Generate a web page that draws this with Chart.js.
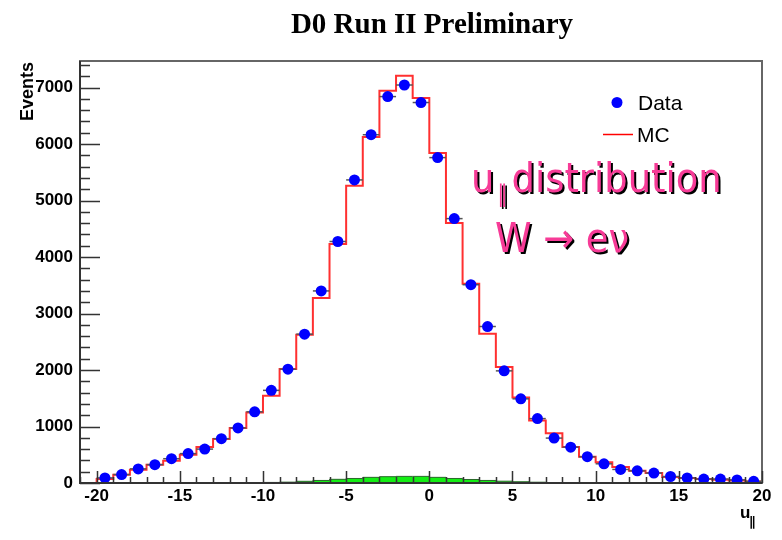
<!DOCTYPE html>
<html>
<head>
<meta charset="utf-8">
<script src="https://cdn.jsdelivr.net/npm/chart.js@4.4.1/dist/chart.umd.min.js"></script>
<style>
  html, body { margin: 0; padding: 0; background: #fff; }
</style>
</head>
<body>
<canvas id="chart" width="782" height="540"></canvas>
<script>
// u_parallel bins, 1 GeV wide, from -20 to 20
const BinCenters = [-19.5, -18.5, -17.5, -16.5, -15.5, -14.5, -13.5, -12.5, -11.5, -10.5,
                    -9.5, -8.5, -7.5, -6.5, -5.5, -4.5, -3.5, -2.5, -1.5, -0.5,
                    0.5, 1.5, 2.5, 3.5, 4.5, 5.5, 6.5, 7.5, 8.5, 9.5,
                    10.5, 11.5, 12.5, 13.5, 14.5, 15.5, 16.5, 17.5, 18.5, 19.5];
const BinWidth = 1;

const DataCounts = [90, 150, 250, 325, 430, 520, 600, 785, 975, 1260,
                    1640, 2015, 2635, 3400, 4275, 5365, 6165, 6840, 7045, 6735,
                    5760, 4680, 3510, 2770, 1985, 1490, 1140, 795, 635, 465,
                    340, 240, 215, 175, 115, 90, 70, 70, 55, 30];

const McCounts = [70, 147, 235, 324, 395, 500, 637, 779, 973, 1250,
                  1545, 2017, 2624, 3274, 4229, 5261, 6123, 6942, 7208, 6813,
                  5840, 4601, 3527, 2642, 2053, 1515, 1108, 880, 637, 465,
                  368, 285, 218, 177, 106, 88, 71, 59, 46, 28];

const BkgCounts = [0, 0, 0, 0, 0, 0, 0, 0, 3, 6,
                   10, 15, 30, 45, 65, 80, 100, 112, 117, 117,
                   100, 80, 62, 45, 32, 22, 14, 8, 4, 2,
                   0, 0, 0, 0, 0, 0, 0, 0, 0, 0];

const XTicks = [-20, -15, -10, -5, 0, 5, 10, 15, 20];
const YTicks = [0, 1000, 2000, 3000, 4000, 5000, 6000, 7000];

const XMin = -21, XMax = 20;
const YMin = 0, YMax = 7470;

// step outline through the lower bin edges, closed at the last upper edge
function histPoints(counts) {
    const pts = [{x: XMin, y: 0}];
    BinCenters.forEach((c, i) => pts.push({x: c - BinWidth / 2, y: counts[i]}));
    pts.push({x: BinCenters[BinCenters.length - 1] + BinWidth / 2, y: counts[counts.length - 1]});
    return pts;
}

const PINK = '#f73b97';

function shadowText(ctx, txt, x, y) {
    ctx.fillStyle = '#000';
    ctx.fillText(txt, x + 2, y + 2);
    ctx.fillStyle = PINK;
    ctx.fillText(txt, x, y);
}

const decor = {
    id: 'decor',
    beforeDatasetDraw(chart, args) {
        if (args.index !== 0) return;
        const ctx = chart.ctx, xs = chart.scales.x, ys = chart.scales.y;
        ctx.save();
        ctx.strokeStyle = '#555';
        ctx.lineWidth = 1.5;
        BinCenters.forEach((c, i) => {
            const y = ys.getPixelForValue(DataCounts[i]);
            ctx.beginPath();
            ctx.moveTo(xs.getPixelForValue(c - BinWidth / 2), y);
            ctx.lineTo(xs.getPixelForValue(c + BinWidth / 2), y);
            ctx.stroke();
        });
        ctx.restore();
    },
    afterDraw(chart) {
        const ctx = chart.ctx, a = chart.chartArea;
        const xs = chart.scales.x, ys = chart.scales.y;
        ctx.save();

        // frame
        ctx.strokeStyle = '#666';
        ctx.lineWidth = 2;
        ctx.strokeRect(a.left, a.top, a.right - a.left, a.bottom - a.top);
        ctx.strokeStyle = '#333';
        ctx.beginPath();
        ctx.moveTo(a.left, a.top);
        ctx.lineTo(a.left, a.bottom);
        ctx.lineTo(a.right, a.bottom);
        ctx.stroke();

        // inward tick marks, majors and minors
        ctx.strokeStyle = '#333';
        ctx.lineWidth = 1.5;
        ctx.beginPath();
        for (let v = Math.ceil(XMin); v <= XMax; v++) {
            const px = Math.round(xs.getPixelForValue(v)) + 0.5;
            const len = v % 5 === 0 ? 12 : 6;
            ctx.moveTo(px, a.bottom);
            ctx.lineTo(px, a.bottom - len);
        }
        for (let v = YMin; v <= YMax; v += 200) {
            const py = Math.round(ys.getPixelForValue(v)) + 0.5;
            const len = v % 1000 === 0 ? 20 : 10;
            ctx.moveTo(a.left, py);
            ctx.lineTo(a.left + len, py);
        }
        ctx.stroke();

        // title
        ctx.fillStyle = '#000';
        ctx.textAlign = 'center';
        ctx.textBaseline = 'alphabetic';
        ctx.font = 'bold 29px "Liberation Serif", "Times New Roman", serif';
        ctx.fillText('D0 Run II Preliminary', 432, 33);

        // y axis title
        ctx.save();
        ctx.translate(33, a.top + 1);
        ctx.rotate(-Math.PI / 2);
        ctx.textAlign = 'right';
        ctx.font = 'bold 18px "Liberation Sans", Arial, sans-serif';
        ctx.fillText('Events', 0, 0);
        ctx.restore();

        // x axis title u_parallel
        ctx.textAlign = 'left';
        ctx.font = 'bold 17px "Liberation Sans", Arial, sans-serif';
        ctx.fillText('u', 740, 518);
        ctx.font = 'bold 13px "DejaVu Sans", sans-serif';
        ctx.fillText('\u2225', 749, 526);

        // legend
        ctx.fillStyle = '#0000ff';
        ctx.beginPath();
        ctx.arc(617, 102.5, 5.5, 0, Math.PI * 2);
        ctx.fill();
        ctx.strokeStyle = '#ff0000';
        ctx.lineWidth = 1.5;
        ctx.beginPath();
        ctx.moveTo(603, 134.5);
        ctx.lineTo(633, 134.5);
        ctx.stroke();
        ctx.fillStyle = '#000';
        ctx.font = '21px "Liberation Sans", Arial, sans-serif';
        ctx.fillText('Data', 638, 110);
        ctx.fillText('MC', 637, 141.5);

        // annotation
        ctx.font = '41px "DejaVu Sans Condensed", "DejaVu Sans", sans-serif';
        shadowText(ctx, 'u', 471, 191.5);
        shadowText(ctx, 'distribution', 511.5, 191.5);
        shadowText(ctx, 'W \u2192 e\u03bd', 495, 251.5);
        ctx.font = '24px "DejaVu Sans Condensed", "DejaVu Sans", sans-serif';
        shadowText(ctx, '\u2225', 497, 202);

        ctx.restore();
    }
};

const tickFont = {family: '"Liberation Sans", Arial, sans-serif', size: 17, weight: 'bold'};

new Chart(document.getElementById('chart'), {
    type: 'scatter',
    data: {
        datasets: [{
            label: 'Data',
            data: BinCenters.map((c, i) => ({x: c, y: DataCounts[i]})),
            backgroundColor: '#0000ff',
            borderColor: '#0000ff',
            pointRadius: 5.5,
            pointBorderWidth: 0,
            showLine: false
        }, {
            label: 'MC',
            data: histPoints(McCounts),
            showLine: true,
            stepped: 'before',
            borderColor: '#ff3030',
            borderWidth: 2,
            pointRadius: 0,
            fill: false
        }, {
            label: 'Background',
            data: histPoints(BkgCounts),
            showLine: true,
            stepped: 'before',
            borderColor: '#2a6a2a',
            borderWidth: 1,
            backgroundColor: '#14ee14',
            pointRadius: 0,
            fill: 'origin'
        }]
    },
    options: {
        responsive: false,
        animation: false,
        devicePixelRatio: 1,
        layout: {padding: {top: 61, right: 20, left: 0, bottom: 0}},
        plugins: {
            legend: {display: false},
            title: {display: false},
            tooltip: {enabled: false}
        },
        scales: {
            x: {
                type: 'linear',
                min: XMin,
                max: XMax,
                grid: {display: false, drawTicks: false},
                border: {display: false},
                afterBuildTicks: s => { s.ticks = XTicks.map(v => ({value: v})); },
                ticks: {
                    padding: 3,
                    color: '#000',
                    font: tickFont,
                    maxRotation: 0,
                    autoSkip: false,
                    callback: v => String(v)
                },
                afterFit: s => { s.height = 57; }
            },
            y: {
                type: 'linear',
                min: YMin,
                max: YMax,
                grid: {display: false, drawTicks: false},
                border: {display: false},
                afterBuildTicks: s => { s.ticks = YTicks.map(v => ({value: v})); },
                ticks: {
                    padding: 7,
                    color: '#000',
                    font: tickFont,
                    autoSkip: false,
                    callback: v => String(v)
                },
                afterFit: s => { s.width = 80; }
            }
        }
    },
    plugins: [decor]
});
</script>
</body>
</html>
